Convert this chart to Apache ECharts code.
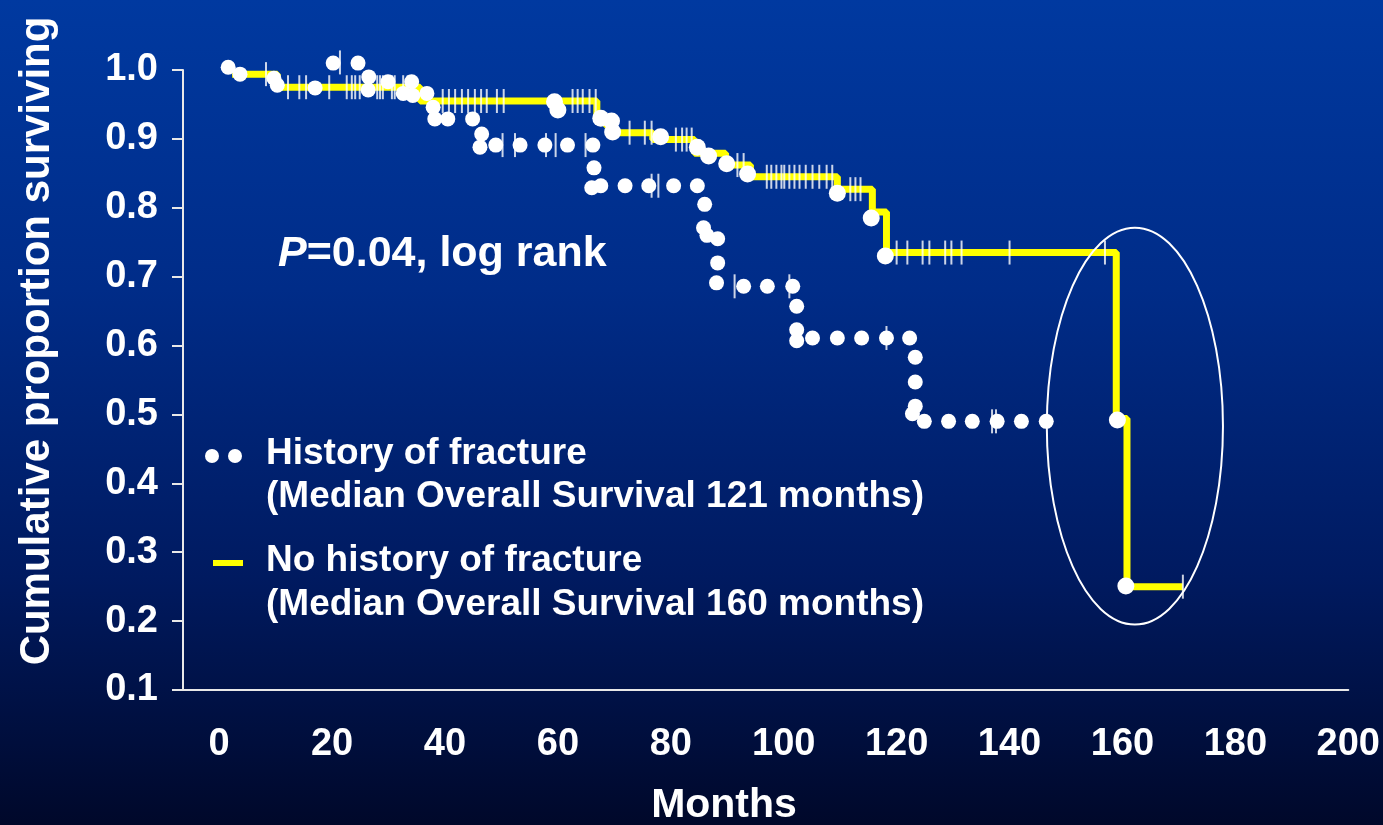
<!DOCTYPE html>
<html>
<head>
<meta charset="utf-8">
<title>Survival by fracture history</title>
<script src="https://cdn.jsdelivr.net/npm/echarts@6/dist/echarts.min.js"></script>
<style>
  html, body { margin: 0; padding: 0; background: #001a60; }
  #chart { width: 1383px; height: 825px; }
</style>
</head>
<body>
<div id="chart"></div>
<script>
const FONT = "Liberation Sans";

// x axis labels (months)
const xTicks = [0, 20, 40, 60, 80, 100, 120, 140, 160, 180, 200];

// No history of fracture: Kaplan-Meier steps [month, proportion]
const noFxSteps = [
  [2.3, 0.994], [10.3, 0.975], [35.6, 0.955], [66.9, 0.935], [68.3, 0.921],
  [69.7, 0.909], [76.8, 0.899], [84.2, 0.879], [89.7, 0.862], [94.1, 0.845],
  [109.5, 0.827], [115.7, 0.794], [118.2, 0.735], [158.9, 0.494], [160.8, 0.25],
  [170.7, 0.25],
];

// white event dots sitting on the yellow curve
const noFxEvents = [
  [59.4, 0.954], [60.0, 0.942], [67.6, 0.930], [69.5, 0.926], [69.7, 0.910],
  [78.2, 0.903], [84.7, 0.888], [86.7, 0.875], [89.9, 0.864], [93.6, 0.849],
  [109.5, 0.821], [115.5, 0.785], [118.0, 0.730], [159.1, 0.492], [160.6, 0.251],
];

// censored cases on the yellow curve
const noFxCensored = [
  [8.3, 0.994],
  [12.2, 0.975], [14.2, 0.975], [15.4, 0.975], [19.5, 0.975], [22.6, 0.975],
  [23.5, 0.975], [24.1, 0.975], [24.9, 0.975], [28.0, 0.975], [28.5, 0.975],
  [29.0, 0.975], [30.6, 0.975], [31.1, 0.975], [32.6, 0.975], [33.4, 0.975],
  [39.6, 0.955], [40.7, 0.955], [41.8, 0.955], [43.0, 0.955], [44.1, 0.955],
  [45.3, 0.955], [46.4, 0.955], [47.4, 0.955], [49.2, 0.955], [50.4, 0.955],
  [62.6, 0.955], [63.5, 0.955], [64.4, 0.955], [65.6, 0.955], [66.7, 0.955],
  [72.7, 0.909], [75.4, 0.909], [76.6, 0.909],
  [80.9, 0.899], [82.0, 0.899], [82.8, 0.899], [83.7, 0.899],
  [91.8, 0.862], [92.9, 0.862],
  [97.0, 0.845], [97.8, 0.845], [98.7, 0.845], [99.6, 0.845], [100.1, 0.845],
  [101.0, 0.845], [101.9, 0.845], [102.8, 0.845], [103.9, 0.845], [105.1, 0.845],
  [106.3, 0.845], [107.6, 0.845], [108.6, 0.845],
  [111.8, 0.827], [112.7, 0.827], [113.6, 0.827],
  [120.0, 0.735], [121.9, 0.735], [124.6, 0.735], [125.8, 0.735], [128.6, 0.735],
  [129.7, 0.735], [131.5, 0.735], [140.0, 0.735], [156.9, 0.735],
  [170.7, 0.25],
];

// History of fracture: drawn as round dots
const fxDots = [
  [1.6, 1.004], [3.7, 0.994], [9.7, 0.988], [10.3, 0.978], [17.0, 0.974],
  [20.2, 1.010], [24.6, 1.010], [26.5, 0.990], [26.4, 0.971], [29.9, 0.983],
  [32.6, 0.966], [34.1, 0.983], [34.3, 0.963], [36.8, 0.966], [37.9, 0.946],
  [38.2, 0.929], [40.5, 0.929], [44.9, 0.929], [46.5, 0.907], [46.2, 0.888],
  [49.0, 0.891], [53.3, 0.891], [57.7, 0.891], [61.7, 0.891], [66.2, 0.891],
  [66.4, 0.858], [66.0, 0.829], [67.6, 0.832], [71.9, 0.832], [76.1, 0.832],
  [80.5, 0.832], [84.7, 0.832], [86.0, 0.805], [85.8, 0.771], [86.4, 0.760],
  [88.3, 0.755], [88.3, 0.720], [88.1, 0.691], [92.9, 0.686], [97.1, 0.686],
  [101.6, 0.686], [102.3, 0.657], [102.3, 0.623], [102.3, 0.607], [105.1, 0.611],
  [109.5, 0.611], [113.8, 0.611], [118.2, 0.611], [122.3, 0.611], [123.3, 0.583],
  [123.3, 0.547], [123.3, 0.512], [122.8, 0.501], [124.9, 0.490], [129.2, 0.490],
  [133.4, 0.490], [137.8, 0.490], [142.1, 0.490], [146.5, 0.490],
];

const fxCensored = [
  [21.4, 1.011],
  [50.2, 0.891], [52.4, 0.891], [57.9, 0.891], [59.6, 0.891], [64.9, 0.891],
  [76.6, 0.832], [77.8, 0.832],
  [91.3, 0.686], [101.0, 0.686],
  [118.2, 0.611],
  [136.9, 0.490], [137.6, 0.490],
];

// ring drawn round the late drop, in data units
const ringCenter = [162.2, 0.483];
const ringRadius = [15.6, 0.288];

const chart = echarts.init(document.getElementById("chart"));

const bold = (size) => ({ fontFamily: FONT, fontWeight: "bold", fontSize: size, fill: "#fff" });

chart.setOption({
  animation: false,
  backgroundColor: {
    type: "linear", x: 0, y: 0, x2: 0, y2: 1,
    colorStops: [
      { offset: 0, color: "#0039a0" },
      { offset: 0.35, color: "#002c88" },
      { offset: 0.7, color: "#001a60" },
      { offset: 1, color: "#00082a" },
    ],
  },
  grid: { left: 183, right: 33.4, top: 70, bottom: 135 },
  xAxis: {
    type: "value",
    min: -6.4,
    max: 200,
    splitLine: { show: false },
    axisTick: { show: false },
    axisLine: { lineStyle: { color: "#e8e8e8", width: 2 } },
    axisLabel: {
      customValues: xTicks,
      margin: 36,
      color: "#fff",
      fontFamily: FONT,
      fontWeight: "bold",
      fontSize: 38,
    },
  },
  yAxis: {
    type: "value",
    min: 0.1,
    max: 1.0,
    interval: 0.1,
    splitLine: { show: false },
    axisLine: { show: true, onZero: false, lineStyle: { color: "#e8e8e8", width: 2 } },
    axisTick: { show: true, length: 11, lineStyle: { color: "#e8e8e8", width: 2 } },
    axisLabel: {
      margin: 25,
      color: "#fff",
      fontFamily: FONT,
      fontWeight: "bold",
      fontSize: 38,
      formatter: (v) => v.toFixed(1),
    },
  },
  series: [
    {
      name: "No history of fracture",
      type: "line",
      step: "end",
      showSymbol: false,
      data: noFxSteps,
      lineStyle: { color: "#ffff00", width: 7 },
      z: 2,
    },
    {
      name: "No history censored",
      type: "scatter",
      symbol: "rect",
      symbolSize: [2, 24],
      data: noFxCensored,
      itemStyle: { color: "#ffffff" },
      clip: false,
      z: 3,
    },
    {
      name: "History censored",
      type: "scatter",
      symbol: "rect",
      symbolSize: [2, 24],
      data: fxCensored,
      itemStyle: { color: "#ffffff" },
      clip: false,
      z: 3,
    },
    {
      name: "History of fracture",
      type: "scatter",
      symbolSize: 15,
      data: fxDots,
      itemStyle: { color: "#ffffff", opacity: 1 },
      clip: false,
      z: 4,
    },
    {
      name: "No history events",
      type: "scatter",
      symbolSize: 17,
      data: noFxEvents,
      itemStyle: { color: "#ffffff", opacity: 1 },
      clip: false,
      z: 4,
    },
  ],
});

// ring and text overlays
const c = chart.convertToPixel({ gridIndex: 0 }, ringCenter);
const e = chart.convertToPixel({ gridIndex: 0 }, [ringCenter[0] + ringRadius[0], ringCenter[1] - ringRadius[1]]);

chart.setOption({
  graphic: [
    {
      type: "ellipse",
      shape: { cx: c[0], cy: c[1], rx: e[0] - c[0], ry: e[1] - c[1] },
      style: { fill: "none", stroke: "#ffffff", lineWidth: 2 },
      z: 10,
    },
    {
      type: "text", x: 37, y: 341, rotation: Math.PI / 2,
      style: { ...bold(42), text: "Cumulative proportion surviving", align: "center", verticalAlign: "middle" },
    },
    {
      type: "text", x: 724, y: 806,
      style: { ...bold(41), text: "Months", align: "center", verticalAlign: "middle" },
    },
    {
      type: "text", x: 278, y: 254,
      style: {
        text: "{i|P}=0.04, log rank",
        ...bold(43),
        verticalAlign: "middle",
        rich: { i: { fontFamily: FONT, fontWeight: "bold", fontStyle: "italic", fontSize: 43, fill: "#fff" } },
      },
    },
    // legend
    { type: "circle", shape: { cx: 212, cy: 456, r: 7 }, style: { fill: "#fff" } },
    { type: "circle", shape: { cx: 235, cy: 456, r: 7 }, style: { fill: "#fff" } },
    { type: "text", x: 266, y: 454, style: { ...bold(37), text: "History of fracture", verticalAlign: "middle" } },
    { type: "text", x: 266, y: 497, style: { ...bold(37), text: "(Median Overall Survival 121 months)", verticalAlign: "middle" } },
    { type: "line", shape: { x1: 213, y1: 563, x2: 243, y2: 563 }, style: { stroke: "#ffff00", lineWidth: 6 } },
    { type: "text", x: 266, y: 561, style: { ...bold(37), text: "No history of fracture", verticalAlign: "middle" } },
    { type: "text", x: 266, y: 605, style: { ...bold(37), text: "(Median Overall Survival 160 months)", verticalAlign: "middle" } },
  ],
});
</script>
</body>
</html>
